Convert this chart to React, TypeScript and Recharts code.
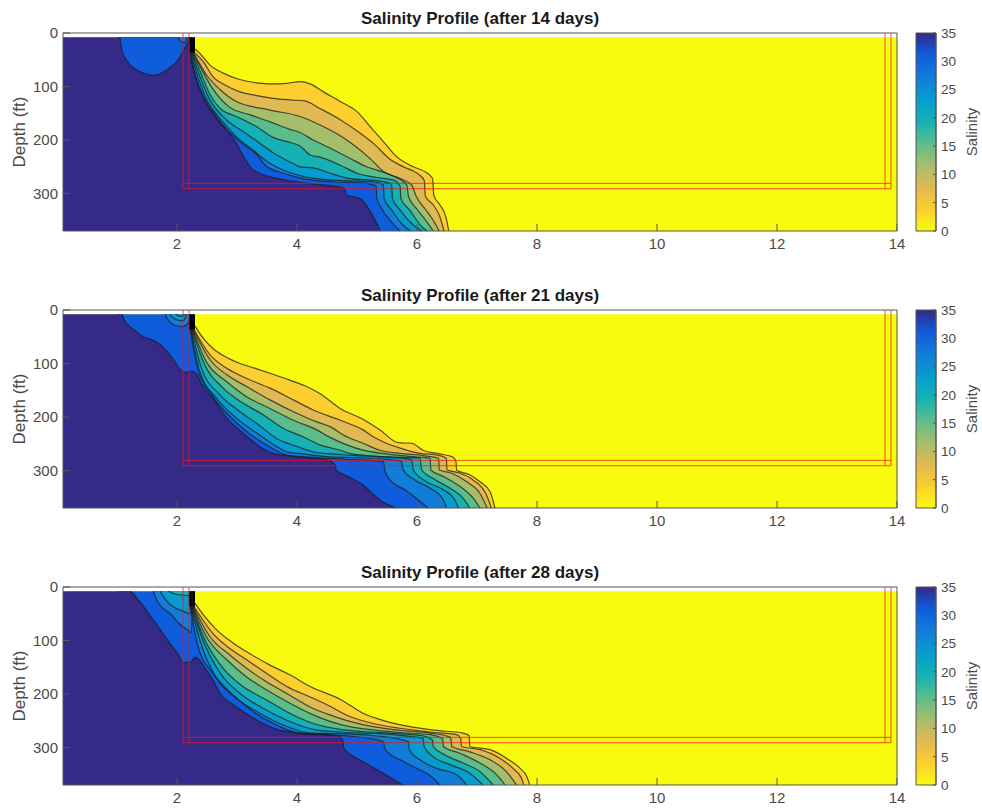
import React from "react"
import { ComposedChart, Area, Line, Bar, XAxis, YAxis } from "recharts"

type Pt = [number, number]

const FONT = "Helvetica, 'Liberation Sans', Arial, sans-serif"
const xTicks = [2, 4, 6, 8, 10, 12, 14]
const depthTicks = [0, 100, 200, 300]
const salinityTicks = [0, 5, 10, 15, 20, 25, 30, 35]
const bandColors = ["#FCCE2E", "#E1B952", "#A5BE6B", "#59BD8C", "#15B1B4", "#079CCF", "#127DD8", "#0F5CDD", "#352A87"]
const parula = ["#F9FB0E", "#FCCE2E", "#E1B952", "#A5BE6B", "#59BD8C", "#15B1B4", "#079CCF", "#127DD8", "#0F5CDD", "#352A87"]

const seaTop: Pt[] = [[0.1, 8], [14, 8]]
const coast: Pt[] = [[1.0, 8], [2.3, 8]]
const column: Pt[] = [[2.2, 37], [2.3, 37]]

const frameOuter: Pt[] = [[2.1, 0], [2.1, 291], [13.9, 291], [13.9, 0]]
const frameUpper: Pt[] = [[2.1, 281], [13.9, 281]]
const frameLeft: Pt[] = [[2.2, 0], [2.2, 291]]
const frameRight: Pt[] = [[13.8, 0], [13.8, 291]]

// 14 days
const d14a: Pt[] = [[2.3, 30], [2.38, 38], [2.55, 60], [2.77, 75], [2.99, 85], [3.27, 92], [3.55, 95], [3.83, 94], [4.05, 91], [4.22, 95], [4.44, 110], [4.72, 128], [5.0, 147], [5.22, 175], [5.44, 203], [5.66, 231], [5.94, 250], [6.16, 261], [6.26, 272], [6.28, 303], [6.38, 321], [6.48, 343], [6.53, 370]]
const d14b: Pt[] = [[2.28, 36], [2.44, 54], [2.6, 82], [2.8, 97], [3.05, 110], [3.33, 117], [3.6, 122], [3.88, 125], [4.13, 127], [4.38, 141], [4.72, 162], [5.05, 187], [5.3, 209], [5.55, 236], [5.77, 250], [6.0, 262], [6.12, 275], [6.14, 305], [6.27, 321], [6.38, 343], [6.45, 370]]
const d14c: Pt[] = [[2.27, 36], [2.36, 54], [2.49, 78], [2.72, 106], [2.99, 128], [3.55, 144], [4.05, 156], [4.33, 169], [4.66, 188], [4.94, 209], [5.24, 237], [5.44, 259], [5.72, 272], [5.91, 284], [5.99, 306], [6.13, 328], [6.27, 350], [6.37, 370]]
const d14d: Pt[] = [[2.26, 36], [2.4, 66], [2.6, 105], [2.88, 139], [3.22, 153], [3.55, 166], [3.88, 180], [4.05, 186], [4.27, 200], [4.55, 215], [4.88, 234], [5.16, 250], [5.49, 262], [5.69, 272], [5.83, 284], [5.86, 306], [5.99, 328], [6.16, 352], [6.27, 370]]
const d14e: Pt[] = [[2.25, 36], [2.38, 70], [2.55, 115], [2.72, 141], [2.99, 156], [3.33, 175], [3.6, 195], [3.9, 205], [4.05, 211], [4.22, 228], [4.38, 232], [4.72, 247], [5.0, 262], [5.33, 270], [5.61, 275], [5.72, 287], [5.73, 309], [5.88, 331], [6.08, 362], [6.17, 370]]
const d14f: Pt[] = [[2.24, 36], [2.35, 72], [2.55, 125], [2.83, 163], [3.1, 184], [3.38, 206], [3.66, 228], [3.94, 244], [4.05, 250], [4.27, 252], [4.55, 262], [4.88, 272], [5.33, 276], [5.55, 281], [5.58, 286], [5.59, 309], [5.72, 331], [5.91, 356], [6.08, 370]]
const d14g: Pt[] = [[2.23, 36], [2.33, 76], [2.5, 125], [2.68, 155], [2.83, 175], [2.99, 194], [3.27, 219], [3.5, 240], [3.77, 256], [4.1, 268], [4.38, 273], [4.77, 276], [5.27, 278], [5.44, 284], [5.45, 309], [5.58, 331], [5.74, 356], [5.89, 370]]
const d14h: Pt[] = [[2.22, 36], [2.31, 80], [2.47, 125], [2.65, 160], [2.83, 181], [3.08, 206], [3.36, 231], [3.47, 247], [3.8, 263], [4.1, 272], [4.6, 278], [5.16, 281], [5.32, 286], [5.33, 309], [5.41, 328], [5.55, 350], [5.72, 370]]
const d14i: Pt[] = [[0.1, 8], [2.2, 8], [2.22, 45], [2.245, 57], [2.38, 106], [2.66, 156], [2.99, 206], [3.16, 240], [3.27, 256], [3.5, 267], [4.0, 278], [4.27, 282], [4.72, 288], [4.8, 293], [4.83, 303], [5.05, 309], [5.24, 337], [5.39, 370]]
const d14bubble: Pt[] = [[1.05, 8], [1.08, 32], [1.18, 54], [1.38, 72], [1.6, 79], [1.83, 69], [2.02, 50], [2.13, 28], [2.22, 8]]
const d14pocket: Pt[] = [[2.02, 8], [2.05, 15], [2.12, 18], [2.17, 8]]

// 21 days
const d21a: Pt[] = [[2.3, 30], [2.44, 53], [2.6, 72], [2.8, 87], [3.05, 100], [3.33, 110], [3.6, 120], [3.88, 131], [4.16, 143], [4.38, 156], [4.72, 184], [5.13, 206], [5.38, 224], [5.69, 248], [5.91, 249], [6.1, 262], [6.38, 269], [6.6, 275], [6.65, 283], [6.66, 299], [6.88, 308], [7.05, 321], [7.22, 340], [7.3, 370]]
const d21b: Pt[] = [[2.28, 36], [2.55, 84], [2.83, 109], [3.16, 128], [3.55, 146], [3.94, 168], [4.27, 187], [4.72, 206], [5.1, 224], [5.27, 237], [5.47, 248], [5.72, 258], [6.05, 268], [6.33, 271], [6.49, 277], [6.5, 299], [6.69, 304], [6.94, 318], [7.16, 346], [7.24, 370]]
const d21c: Pt[] = [[2.27, 36], [2.55, 93], [2.83, 121], [3.16, 143], [3.55, 168], [3.94, 190], [4.33, 209], [4.55, 218], [4.83, 237], [5.1, 249], [5.38, 262], [5.72, 268], [6.1, 272], [6.36, 277], [6.37, 299], [6.58, 305], [6.83, 321], [7.05, 343], [7.17, 370]]
const d21d: Pt[] = [[2.26, 36], [2.49, 97], [2.83, 134], [3.16, 162], [3.55, 184], [3.94, 206], [4.33, 224], [4.55, 238], [4.83, 252], [5.1, 262], [5.49, 269], [5.94, 274], [6.22, 277], [6.23, 299], [6.44, 311], [6.72, 330], [6.94, 352], [7.05, 370]]
const d21e: Pt[] = [[2.25, 36], [2.44, 97], [2.77, 146], [3.1, 174], [3.44, 196], [3.77, 221], [4.1, 237], [4.38, 252], [4.72, 262], [4.88, 268], [5.27, 273], [5.66, 275], [6.05, 277], [6.08, 299], [6.27, 315], [6.55, 333], [6.77, 352], [6.88, 370]]
const d21f: Pt[] = [[2.24, 36], [2.41, 109], [2.72, 159], [3.05, 190], [3.33, 212], [3.66, 240], [4.0, 255], [4.27, 265], [4.72, 270], [5.0, 272], [5.5, 275], [5.91, 279], [5.94, 299], [6.16, 321], [6.44, 336], [6.63, 355], [6.69, 370]]
const d21g: Pt[] = [[2.23, 36], [2.38, 115], [2.66, 165], [2.99, 202], [3.33, 230], [3.66, 255], [3.83, 265], [4.1, 269], [4.49, 274], [5.0, 276], [5.5, 279], [5.74, 283], [5.77, 299], [5.97, 318], [6.22, 333], [6.44, 355], [6.49, 370]]
const d21h: Pt[] = [[2.22, 36], [2.33, 103], [2.6, 162], [2.94, 205], [3.22, 232], [3.49, 252], [3.83, 271], [4.2, 275], [4.8, 279], [5.44, 283], [5.47, 302], [5.58, 321], [5.8, 336], [6.02, 355], [6.19, 370]]
const d21i: Pt[] = [[0.1, 8], [1.08, 8], [1.13, 20], [1.27, 36], [1.44, 50], [1.63, 58], [1.8, 73], [1.94, 92], [2.05, 111], [2.16, 117], [2.24, 114], [2.33, 120], [2.41, 139], [2.6, 165], [2.83, 202], [3.1, 230], [3.38, 255], [3.6, 268], [4.0, 274], [4.52, 281], [4.64, 290], [4.65, 299], [4.83, 310], [5.1, 327], [5.38, 355], [5.66, 370]]
const d21pocketA: Pt[] = [[1.8, 8], [1.86, 20], [1.97, 29], [2.1, 31], [2.19, 24], [2.22, 8]]
const d21pocketB: Pt[] = [[1.88, 8], [1.97, 17], [2.1, 20], [2.16, 8]]
const d21pocketC: Pt[] = [[1.98, 8], [2.05, 12], [2.13, 8]]

// 28 days
const d28a: Pt[] = [[2.3, 30], [2.44, 52], [2.66, 80], [2.94, 105], [3.22, 125], [3.55, 146], [3.88, 164], [4.22, 186], [4.74, 211], [5.1, 236], [5.49, 251], [5.88, 261], [6.33, 268], [6.77, 273], [6.87, 278], [6.88, 298], [7.22, 304], [7.49, 320], [7.72, 339], [7.83, 354], [7.88, 370]]
const d28b: Pt[] = [[2.28, 36], [2.6, 87], [2.88, 115], [3.16, 136], [3.49, 161], [3.83, 186], [4.27, 208], [4.55, 223], [4.88, 242], [5.27, 255], [5.72, 264], [6.22, 271], [6.66, 276], [6.73, 283], [6.74, 298], [7.05, 304], [7.38, 320], [7.6, 339], [7.74, 357], [7.78, 370]]
const d28c: Pt[] = [[2.27, 36], [2.55, 93], [2.88, 127], [3.16, 152], [3.49, 177], [3.83, 199], [4.27, 227], [4.55, 239], [4.88, 251], [5.27, 261], [5.72, 268], [6.22, 273], [6.56, 281], [6.58, 298], [6.88, 308], [7.22, 323], [7.49, 345], [7.66, 370]]
const d28d: Pt[] = [[2.26, 36], [2.49, 93], [2.83, 136], [3.16, 168], [3.49, 192], [3.83, 214], [4.27, 239], [4.55, 251], [4.88, 261], [5.27, 267], [5.72, 272], [6.22, 276], [6.43, 284], [6.44, 298], [6.72, 311], [7.05, 329], [7.33, 351], [7.47, 370]]
const d28e: Pt[] = [[2.25, 36], [2.44, 93], [2.77, 152], [3.1, 186], [3.49, 211], [3.83, 233], [4.27, 255], [4.72, 266], [5.1, 270], [5.66, 274], [6.1, 278], [6.26, 286], [6.27, 298], [6.47, 314], [6.77, 329], [7.05, 345], [7.27, 370]]
const d28f: Pt[] = [[2.24, 36], [2.41, 93], [2.72, 161], [3.05, 199], [3.44, 227], [3.83, 249], [4.27, 266], [4.72, 271], [5.38, 274], [6.1, 283], [6.12, 298], [6.27, 317], [6.55, 332], [6.88, 348], [7.1, 370]]
const d28g: Pt[] = [[2.23, 36], [2.38, 99], [2.66, 171], [2.99, 208], [3.38, 236], [3.77, 258], [4.22, 273], [4.72, 274], [5.3, 278], [5.86, 289], [5.87, 304], [6.05, 323], [6.33, 339], [6.66, 351], [6.83, 370]]
const d28h: Pt[] = [[2.22, 36], [2.35, 111], [2.6, 161], [2.94, 202], [3.27, 233], [3.66, 258], [4.1, 275], [4.66, 277], [5.0, 280], [5.44, 289], [5.47, 304], [5.72, 323], [6.0, 339], [6.24, 354], [6.38, 370]]
const d28i: Pt[] = [[0.1, 8], [1.22, 8], [1.44, 36], [1.66, 70], [1.88, 105], [2.02, 126], [2.1, 141], [2.22, 141], [2.3, 131], [2.38, 137], [2.47, 152], [2.6, 174], [2.72, 199], [2.94, 220], [3.19, 239], [3.49, 258], [3.72, 268], [4.1, 273], [4.7, 278], [4.77, 289], [4.78, 301], [5.1, 326], [5.44, 348], [5.76, 370]]
const d28pocketA: Pt[] = [[1.6, 8], [1.69, 30], [1.91, 52], [2.05, 70], [2.15, 78], [2.24, 85], [2.26, 8]]
const d28pocketB: Pt[] = [[1.72, 8], [1.8, 22], [1.95, 38], [2.1, 45], [2.22, 50], [2.24, 8]]
const d28pocketC: Pt[] = [[1.86, 8], [2.0, 14], [2.2, 16], [2.21, 8]]

const rows = (pts: Pt[]) => pts.map(([x, d]) => ({ x, d }))

const fillLayer = (pts: Pt[], color: string, key: string, base = 370) => (
  <Area
    key={key}
    data={rows(pts)}
    dataKey="d"
    type="monotoneX"
    baseValue={base}
    fill={color}
    fillOpacity={1}
    stroke="none"
    dot={false}
    activeDot={false}
    isAnimationActive={false}
  />
)

const contourLine = (pts: Pt[], key: string) => (
  <Line
    key={key}
    data={rows(pts.filter((p) => p[1] > 8 || p[0] > 1))}
    dataKey="d"
    type="monotoneX"
    stroke="#1c1c1c"
    strokeOpacity={0.75}
    strokeWidth={1.2}
    dot={false}
    activeDot={false}
    isAnimationActive={false}
  />
)

const frameLine = (pts: Pt[], key: string) => (
  <Line
    key={key}
    data={rows(pts)}
    dataKey="d"
    type="linear"
    stroke="#F0141E"
    strokeOpacity={0.75}
    strokeWidth={1}
    dot={false}
    activeDot={false}
    isAnimationActive={false}
  />
)

const axisTick = { fill: "#4a4a4a", fontSize: 15, fontFamily: FONT }

const Panel = ({ title, contours, pockets, top }: { title: string; contours: Pt[][]; pockets: [Pt[], string][]; top: number }) => (
  <div style={{ position: "absolute", left: 0, top }}>
    <ComposedChart width={915} height={260} margin={{ top: 32, right: 17, bottom: 0, left: 23 }}>
      <XAxis
        type="number"
        dataKey="x"
        domain={[0.1, 14]}
        ticks={xTicks}
        interval={0}
        height={29}
        stroke="#555"
        tick={axisTick}
        tickSize={-7}
        tickMargin={14}
      />
      <XAxis
        xAxisId="top"
        orientation="top"
        type="number"
        dataKey="x"
        domain={[0.1, 14]}
        ticks={xTicks}
        interval={0}
        height={1}
        stroke="#555"
        tickFormatter={() => ""}
        tickSize={-7}
        label={{ value: title, position: "top", offset: 8, fill: "#1a1a1a", fontSize: 17, fontWeight: "bold", fontFamily: FONT }}
      />
      <YAxis
        type="number"
        domain={[0, 370]}
        reversed
        ticks={depthTicks}
        interval={0}
        width={40}
        stroke="#555"
        tick={axisTick}
        tickSize={-7}
        tickMargin={12}
        label={{ value: "Depth (ft)", angle: -90, position: "insideLeft", offset: -4, fill: "#4a4a4a", fontSize: 17, fontFamily: FONT, style: { textAnchor: "middle" } }}
      />
      <YAxis
        yAxisId="right"
        orientation="right"
        type="number"
        domain={[0, 370]}
        reversed
        ticks={depthTicks}
        interval={0}
        width={1}
        stroke="#555"
        tickFormatter={() => ""}
        tickSize={-7}
      />
      {fillLayer(seaTop, "#F9FB0E", "sea")}
      {fillLayer(coast, "#0F5CDD", "coast")}
      {contours.map((c, i) => fillLayer(c, bandColors[i], `fill${i}`))}
      {pockets.map(([p, color], i) => fillLayer(p, color, `pocket${i}`, 8))}
      {fillLayer(column, "#000000", "column", 8)}
      {contours.map((c, i) => contourLine(c, `line${i}`))}
      {pockets.map(([p], i) => contourLine(p, `pocketLine${i}`))}
      {frameLine(frameOuter, "frameOuter")}
      {frameLine(frameUpper, "frameUpper")}
      {frameLine(frameLeft, "frameLeft")}
      {frameLine(frameRight, "frameRight")}
    </ComposedChart>
  </div>
)

const colorbarValue = [{ name: "salinity", v: 35 }]

const Colorbar = ({ top, id }: { top: number; id: string }) => (
  <div style={{ position: "absolute", left: 900, top }}>
    <ComposedChart width={82} height={260} data={colorbarValue} margin={{ top: 33, right: 6, bottom: 29, left: 16 }} barCategoryGap={0}>
      <defs>
        <linearGradient id={id} x1="0" y1="1" x2="0" y2="0">
          {parula.map((c, i) => (
            <stop key={c} offset={`${(i / (parula.length - 1)) * 100}%`} stopColor={c} />
          ))}
        </linearGradient>
      </defs>
      <XAxis dataKey="name" hide />
      <YAxis
        orientation="right"
        type="number"
        domain={[0, 35]}
        ticks={salinityTicks}
        interval={0}
        width={40}
        stroke="#555"
        tick={{ fill: "#4a4a4a", fontSize: 13.5, fontFamily: FONT }}
        tickSize={-3}
        tickMargin={8}
      />
      <Bar dataKey="v" fill={`url(#${id})`} stroke="#555" strokeWidth={1} isAnimationActive={false} />
    </ComposedChart>
    <div
      style={{
        position: "absolute",
        left: 71,
        top: 132,
        transform: "translate(-50%, -50%) rotate(-90deg)",
        fontFamily: FONT,
        fontSize: 15,
        color: "#4a4a4a",
      }}
    >
      Salinity
    </div>
  </div>
)

export default function App() {
  return (
    <div style={{ position: "absolute", left: 0, top: 0, width: 982, height: 812, background: "#fff" }}>
      <Panel
        top={0}
        title="Salinity Profile (after 14 days)"
        contours={[d14a, d14b, d14c, d14d, d14e, d14f, d14g, d14h, d14i]}
        pockets={[[d14bubble, "#0F5CDD"], [d14pocket, "#127DD8"]]}
      />
      <Colorbar top={0} id="cb14" />
      <Panel
        top={277}
        title="Salinity Profile (after 21 days)"
        contours={[d21a, d21b, d21c, d21d, d21e, d21f, d21g, d21h, d21i]}
        pockets={[[d21pocketA, "#127DD8"], [d21pocketB, "#079CCF"], [d21pocketC, "#15B1B4"]]}
      />
      <Colorbar top={277} id="cb21" />
      <Panel
        top={554}
        title="Salinity Profile (after 28 days)"
        contours={[d28a, d28b, d28c, d28d, d28e, d28f, d28g, d28h, d28i]}
        pockets={[[d28pocketA, "#127DD8"], [d28pocketB, "#079CCF"], [d28pocketC, "#15B1B4"]]}
      />
      <Colorbar top={554} id="cb28" />
    </div>
  )
}
